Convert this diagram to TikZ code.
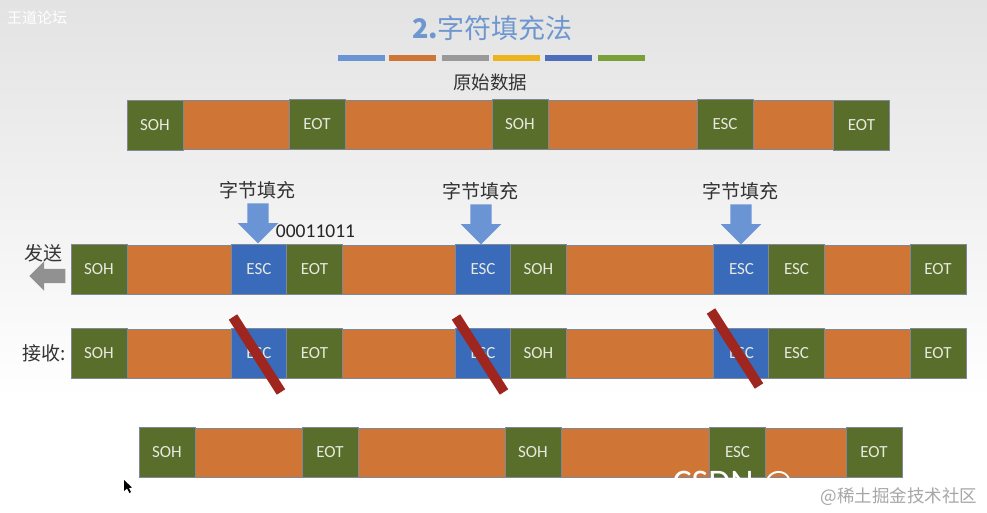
\documentclass[tikz,border=0pt]{standalone}
\usepackage{xcolor}
\usepackage{fontspec}
\setmainfont{Carlito}
\newfontfamily\cjkfont{Noto Sans CJK SC}
\usetikzlibrary{shapes.arrows, positioning, calc}
\definecolor{orangecolor}{RGB}{207, 118, 55}
\definecolor{greencolor}{RGB}{90, 110, 43}
\definecolor{bluecolor}{RGB}{58, 106, 186}
\definecolor{arrowblue}{RGB}{106, 148, 212}
\definecolor{arrowgrey}{RGB}{145, 145, 145}
\definecolor{slashred}{RGB}{158, 38, 30}
\definecolor{edgecolor}{RGB}{128, 135, 150}
\definecolor{titleblue}{RGB}{110, 151, 207}
\definecolor{swatchyellow}{RGB}{237, 180, 30}
\definecolor{swatchblue}{RGB}{78, 109, 187}
\definecolor{swatchgreen}{RGB}{123, 160, 58}

\begin{document}
\begin{tikzpicture}[
    x=1pt, y=-1pt,
    databar/.style={draw=edgecolor, line width=.3pt, fill=orangecolor, inner sep=0pt, minimum height=49pt},
    ctrl/.style={draw=edgecolor, line width=.3pt, fill=greencolor, text=white!85!greencolor, inner sep=0pt, minimum width=56pt, minimum height=50pt, font=\fontsize{17}{17}\selectfont},
    esc/.style={ctrl, fill=bluecolor},
    swatch/.style={inner sep=0pt, minimum width=47pt, minimum height=6pt},
    caption/.style={font=\cjkfont\fontsize{19}{19}\selectfont, text=black!80},
    stuffarrow/.style={single arrow, fill=arrowblue, inner xsep=0pt, inner ysep=10.5pt, minimum height=40pt, single arrow head extend=9.5pt, rotate=-90},
    slash/.style={draw=slashred, line width=10pt}
]
    \useasboundingbox (0,0) rectangle (987,513);
    \shade[top color=black!11, bottom color=white] (0,0) rectangle (987,400);

    % title and colour strip
    \node[font=\cjkfont\fontsize{27}{27}\selectfont, text=titleblue] (title) at (492.5,28) {\textbf{2.}字符填充法};
    \node[swatch, fill=arrowblue] (swa) at (361,58) {};
    \node[swatch, fill=orangecolor] (swb) at (412,58) {};
    \node[swatch, fill=black!40] (swc) at (465,58) {};
    \node[swatch, fill=swatchyellow] (swd) at (516,58) {};
    \node[swatch, fill=swatchblue] (swe) at (568,58) {};
    \node[swatch, fill=swatchgreen] (swf) at (621,58) {};
    \node[font=\cjkfont\fontsize{15}{15}\selectfont, text=white] (wm) at (37,18) {王道论坛};

    % original data
    \node[caption, font=\cjkfont\fontsize{18.5}{18.5}\selectfont] (orig) at (490,82) {原始数据};
    \node[databar, minimum width=762pt] (rawbar) at (508,125) {};
    \node[ctrl] (rawa) at (155,125) {SOH};
    \node[ctrl] (rawb) at (317,124) {EOT};
    \node[ctrl] (rawc) at (520,124) {SOH};
    \node[ctrl] (rawd) at (725,124) {ESC};
    \node[ctrl] (rawe) at (861.5,125) {EOT};

    % sending
    \node[caption] (stuffa) at (257,190) {字节填充};
    \node[caption] (stuffb) at (480,191) {字节填充};
    \node[caption] (stuffc) at (740,191) {字节填充};
    \node[stuffarrow] (arra) at (258,218) {};
    \node[stuffarrow] (arrb) at (481,219) {};
    \node[stuffarrow] (arrc) at (741,219) {};
    \node[font=\fontsize{19.5}{19.5}\selectfont, text=black!85] (bits) at (315.5,231) {00011011};
    \node[caption] (send) at (43,253) {发送};
    \node[single arrow, fill=arrowgrey, inner xsep=0pt, inner ysep=7pt, minimum height=36pt, single arrow head extend=7.5pt, shape border rotate=180] (sendarr) at (51,276) {};
    \node[databar, minimum width=895pt] (txbar) at (518.5,269.5) {};
    \node[ctrl] (txa) at (99,269.5) {SOH};
    \node[esc] (txb) at (259,269.5) {ESC};
    \node[ctrl] (txc) at (314.5,269.5) {EOT};
    \node[esc] (txd) at (483,269.5) {ESC};
    \node[ctrl] (txe) at (538.5,269.5) {SOH};
    \node[esc] (txf) at (741.5,269.5) {ESC};
    \node[ctrl] (txg) at (796.5,269.5) {ESC};
    \node[ctrl] (txh) at (938,269.5) {EOT};

    % receiving
    \node[caption] (recv) at (44,353) {接收:};
    \node[databar, minimum width=895pt] (rxbar) at (518.5,353.5) {};
    \node[ctrl] (rxa) at (99,353.5) {SOH};
    \node[esc] (rxb) at (259,353.5) {ESC};
    \node[ctrl] (rxc) at (314.5,353.5) {EOT};
    \node[esc] (rxd) at (483,353.5) {ESC};
    \node[ctrl] (rxe) at (538.5,353.5) {SOH};
    \node[esc] (rxf) at (741.5,353.5) {ESC};
    \node[ctrl] (rxg) at (796.5,353.5) {ESC};
    \node[ctrl] (rxh) at (938,353.5) {EOT};
    \draw[slash] (233,317) -- (281,392);
    \draw[slash] (456,317) -- (504,392);
    \draw[slash] (711,311) -- (759,386);

    % result
    \node[databar, minimum width=763pt] (outbar) at (520.5,452.5) {};
    \node[ctrl] (outa) at (167,452.5) {SOH};
    \node[ctrl] (outb) at (330,452) {EOT};
    \node[ctrl] (outc) at (533,452) {SOH};
    \node[ctrl] (outd) at (737.5,452) {ESC};
    \node[ctrl] (oute) at (874,452.5) {EOT};

    % marks on top
    \node[font=\fontsize{36}{36}\selectfont, text=white, anchor=west] (csdn) at (669,485) {CSDN @};
    \node[font=\cjkfont\fontsize{17.5}{17.5}\selectfont, text=black!35, anchor=east] (juejin) at (981,497) {@稀土掘金技术社区};
    \fill[black] (124,480) -- (124,491) -- (127,488.5) -- (129.5,493) -- (131,492) -- (129,488) -- (132,487.5) -- cycle;
\end{tikzpicture}
\end{document}
